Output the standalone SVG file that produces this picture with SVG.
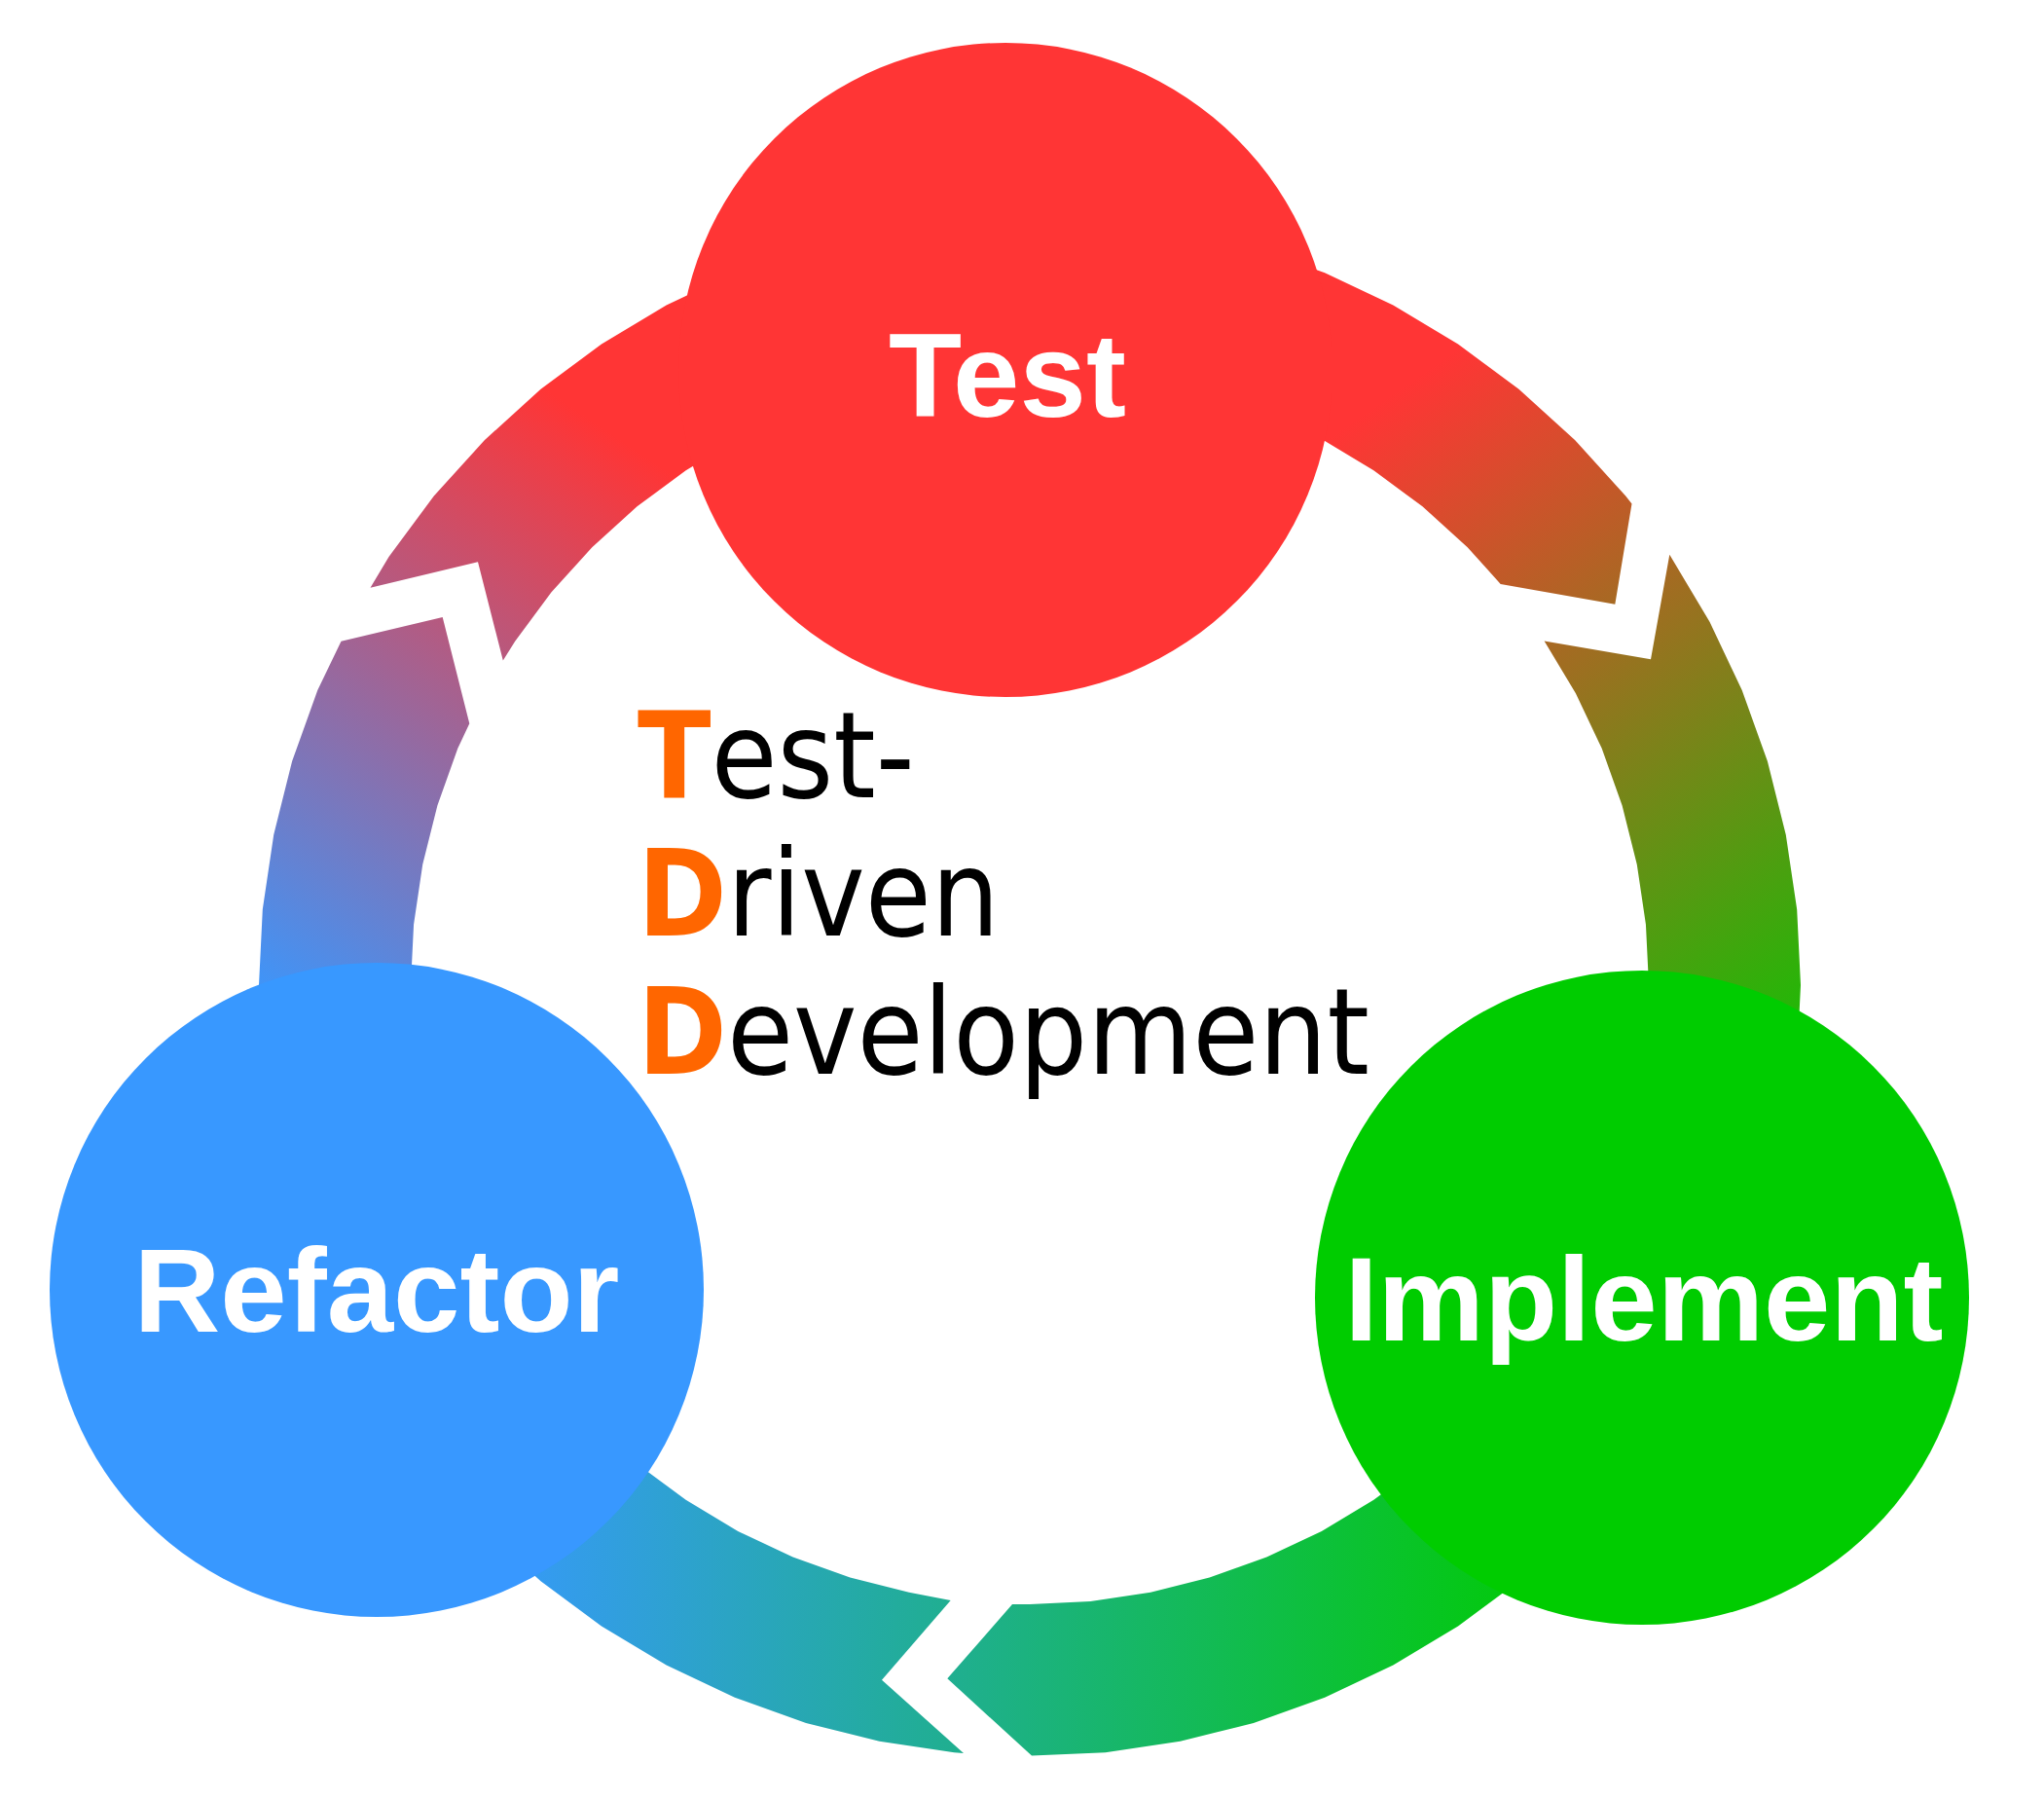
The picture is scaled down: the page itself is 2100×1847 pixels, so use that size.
<svg xmlns="http://www.w3.org/2000/svg" width="2100" height="1847" viewBox="0 0 2100 1847">
  <defs>
    <style>
      .lbl { font-family: "Liberation Sans", Arial, sans-serif; font-weight: bold; font-size: 123px; fill: #ffffff; text-anchor: middle; }
      .tdd { font-family: "DejaVu Sans", sans-serif; font-size: 123px; fill: #000000; }
      .init { font-weight: bold; fill: #ff6600; }
    </style>
    <linearGradient id="gRT" gradientUnits="userSpaceOnUse" x1="230" y1="1020" x2="620" y2="440">
      <stop offset="0" stop-color="#3898ff"/>
      <stop offset="1" stop-color="#ff3535"/>
    </linearGradient>
    <linearGradient id="gTI" gradientUnits="userSpaceOnUse" x1="1454" y1="389" x2="1956" y2="1116">
      <stop offset="0" stop-color="#ff3535"/>
      <stop offset="1" stop-color="#00cc00"/>
    </linearGradient>
    <linearGradient id="gIR" gradientUnits="userSpaceOnUse" x1="487" y1="0" x2="1617" y2="0">
      <stop offset="0" stop-color="#3898ff"/>
      <stop offset="1" stop-color="#00cc00"/>
    </linearGradient>
  </defs>

  <rect x="0" y="0" width="2100" height="1847" fill="#ffffff"/>

  <g id="connectors">
    <g id="arrow-refactor-to-test">
      <polygon fill="url(#gRT)" points="380.5,603.7 399.48,571.99 445.78,509.56 497.97,451.97 555.56,399.78 617.99,353.48 684.65,313.52 754.91,280.29 828.09,254.10 903.49,235.22 980.37,223.81 1058,220 1058,376 995.66,379.06 933.92,388.22 873.38,403.39 814.61,424.41 758.19,451.10 704.66,483.18 654.53,520.37 608.28,562.28 566.37,608.53 529.18,658.66 516.8,678.6 491,577.3"/>
      <polygon fill="url(#gTI)" points="1058,220 1135.63,223.81 1212.51,235.22 1287.91,254.10 1361.09,280.29 1431.35,313.52 1498.01,353.48 1560.44,399.78 1618.03,451.97 1670.22,509.56 1676.5,517.5 1659.3,620.7 1541.7,600 1507.72,562.28 1461.47,520.37 1411.34,483.18 1357.81,451.10 1301.39,424.41 1242.62,403.39 1182.08,388.22 1120.34,379.06 1058,376"/>
    </g>
    <g id="arrow-test-to-implement">
      <polygon fill="url(#gTI)" points="1715.3,569.7 1756.48,638.65 1789.71,708.91 1815.90,782.09 1834.78,857.49 1846.19,934.37 1850,1012 1846.19,1089.63 1834.78,1166.51 1815.90,1241.91 1789.71,1315.09 1756.48,1385.35 1618.90,1311.81 1645.59,1255.39 1666.61,1196.62 1681.78,1136.08 1690.94,1074.34 1694,1012 1690.94,949.66 1681.78,887.92 1666.61,827.38 1645.59,768.61 1618.90,712.19 1586.6,658.5 1696,677.3"/>
      <polygon fill="url(#gIR)" points="1756.48,1385.35 1716.52,1452.01 1670.22,1514.44 1618.03,1572.03 1560.44,1624.22 1498.01,1670.52 1431.35,1710.48 1361.09,1743.71 1287.91,1769.90 1212.51,1788.78 1135.63,1800.19 1060,1803.5 973.3,1724.3 1040,1648 1058,1648 1120.34,1644.94 1182.08,1635.78 1242.62,1620.61 1301.39,1599.59 1357.81,1572.90 1411.34,1540.82 1461.47,1503.63 1507.72,1461.72 1549.63,1415.47 1586.82,1365.34 1618.90,1311.81"/>
    </g>
    <g id="arrow-implement-to-refactor">
      <polygon fill="url(#gIR)" points="990,1801 980.37,1800.19 903.49,1788.78 828.09,1769.90 754.91,1743.71 684.65,1710.48 617.99,1670.52 555.56,1624.22 497.97,1572.03 445.78,1514.44 399.48,1452.01 359.52,1385.35 326.29,1315.09 470.41,1255.39 497.10,1311.81 529.18,1365.34 566.37,1415.47 608.28,1461.72 654.53,1503.63 704.66,1540.82 758.19,1572.90 814.61,1599.59 873.38,1620.61 933.92,1635.78 976.7,1644 906,1725.7"/>
      <polygon fill="url(#gRT)" points="326.29,1315.09 300.10,1241.91 281.22,1166.51 269.81,1089.63 266,1012 269.81,934.37 281.22,857.49 300.10,782.09 326.29,708.91 350.5,658.8 454.7,634 482.3,743.3 470.41,768.61 449.39,827.38 434.22,887.92 425.06,949.66 422,1012 425.06,1074.34 434.22,1136.08 449.39,1196.62 470.41,1255.39"/>
    </g>
  </g>

  <g id="node-test">
    <circle cx="1033" cy="380" r="336" fill="#ff3535"/>
    <text class="lbl" x="1035" y="428">Test</text>
  </g>

  <g id="node-implement">
    <circle cx="1687" cy="1333" r="336" fill="#00cc00"/>
    <text class="lbl" x="1689" y="1377">Implement</text>
  </g>

  <g id="node-refactor">
    <circle cx="387" cy="1325" r="336" fill="#3898ff"/>
    <text class="lbl" x="387" y="1368">Refactor</text>
  </g>

  <g id="title" transform="translate(655 0) scale(0.9 1)">
    <text class="tdd" x="0" y="819"><tspan class="init">T</tspan>est-</text>
    <text class="tdd" x="0" y="961"><tspan class="init">D</tspan>riven</text>
    <text class="tdd" x="0" y="1103"><tspan class="init">D</tspan>evelopment</text>
  </g>
</svg>
